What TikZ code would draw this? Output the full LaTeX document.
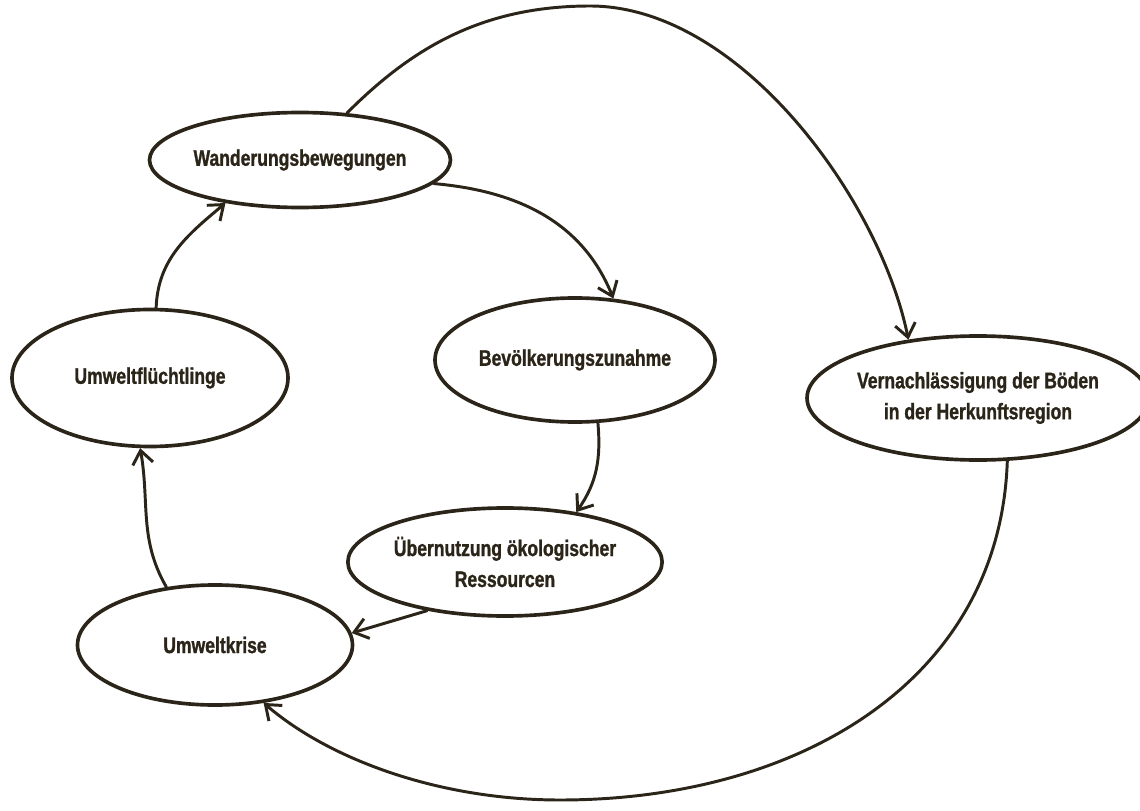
\documentclass[tikz,border=0pt]{standalone}
\usepackage{fontspec}
\setmainfont{Liberation Sans}[FakeStretch=0.78, BoldFeatures={FakeBold=1.2}]
\usetikzlibrary{shapes.geometric,arrows.meta}
\definecolor{ink}{HTML}{2B2419}

\tikzset{
  blob/.style={draw=ink, line width=2.6pt, ellipse, inner sep=0pt, align=center,
    text=ink, font=\bfseries\fontsize{16}{22}\selectfont},
  arr/.style={draw=ink, line width=2.1pt, line cap=round,
    -{Straight Barb[angle=75:12pt]}},
}

\begin{document}
\begin{tikzpicture}[x=0.25mm,y=0.25mm]
\useasboundingbox (0,0) rectangle (1140,-811);

% the six stations
\node [blob, minimum width=6.875cm, minimum height=2.375cm] (wander) at (300,-160) {Wanderungsbewegungen};
\node [blob, minimum width=7cm, minimum height=3.1cm] (bevoelk) at (575,-360) {Bevölkerungszunahme};
\node [blob, minimum width=6cm, minimum height=2.7cm] (uebern) at (505,-562) {Übernutzung ökologischer\\Ressourcen};
\node [blob, minimum width=6.875cm, minimum height=3cm] (krise) at (215,-645) {Umweltkrise};
\node [blob, minimum width=6.9cm, minimum height=3.425cm] (fluecht) at (150,-378) {Umweltflüchtlinge};
\node [blob, minimum width=7.95cm, minimum height=3.1cm] (vern) at (978,-398) {Vernachlässigung der Böden\\in der Herkunftsregion};

% the inner circle
\draw [arr] (wander.-10) to [out=-5,in=112] (bevoelk.58);
\draw [arr] (bevoelk.-70) to [out=-85,in=55] (uebern.35);
\draw [arr] (uebern.212) -- (krise.5);
\draw [arr] (krise.130) to [out=120,in=-80] (fluecht.-98);
\draw [arr] (fluecht.85) to [out=88,in=-140] (wander.210);

% the big loop over the top and back along the bottom
\draw [arr] (wander.45) .. controls (410,-50) and (480,-6) .. (590,-6)
   .. controls (740,-6) and (880,-200) .. (vern.140);
\draw [arr] (vern.-65) .. controls (1000,-680) and (800,-800) .. (560,-800)
   .. controls (440,-800) and (330,-760) .. (krise.-50);

\end{tikzpicture}
\end{document}
